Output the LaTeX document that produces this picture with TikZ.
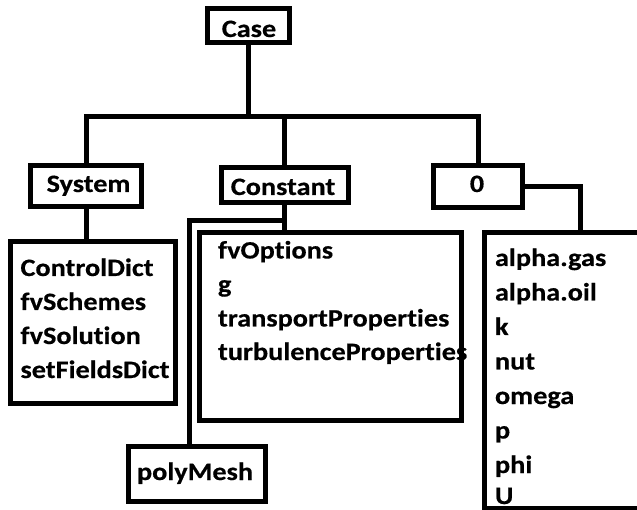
\documentclass[tikz,border=0pt]{standalone}
\usepackage{fontspec}
\setmainfont{Carlito}[FakeStretch=1.13, Ligatures=NoCommon, BoldFeatures={FakeBold=0.5}]
\begin{document}
\begin{tikzpicture}[x=1pt,y=-1pt,
  box/.style={draw, line width=5pt, inner sep=0pt, outer sep=0pt},
  conn/.style={line width=5pt},
  lbl/.style={inner sep=0pt, outer sep=0pt, font=\fontsize{25}{30}\selectfont\bfseries},
  ltxt/.style={lbl, anchor=base west},
  ctxt/.style={lbl, anchor=base}]
\useasboundingbox (0,0) rectangle (637,510);
\clip (0,0) rectangle (637,510);
% boxes
\node[box, minimum width=82pt, minimum height=34pt] (case) at (248.5,26) {};
\node[box, minimum width=111pt, minimum height=41pt] (system) at (86,186) {};
\node[box, minimum width=127pt, minimum height=35pt] (constant) at (284.5,185) {};
\node[box, minimum width=89pt, minimum height=42pt] (zero) at (478,186.5) {};
\node[box, minimum width=165pt, minimum height=161.5pt] (cd) at (93,322.75) {};
\node[box, minimum width=261.5pt, minimum height=188pt] (fvo) at (330.25,326.5) {};
\node[box, minimum width=136.5pt, minimum height=55pt] (poly) at (196.75,474) {};
\node[box, minimum width=166pt, minimum height=275.5pt] (fields) at (567,370.25) {};
% helper coordinates
\coordinate (bar) at (248.5,117);
\coordinate (br) at (285,220.5);
\coordinate (px) at (189,0);
\coordinate (fx) at (580,0);
% connectors
\draw[conn] (case.south) -- (bar);
\draw[conn] (system.north) |- (bar) -| (zero.north);
\draw[conn] (constant.north) -- (constant.north |- bar);
\draw[conn] (system.south) -- (system.south |- cd.north);
\draw[conn] (constant.south) -- (constant.south |- fvo.north);
\draw[conn] (constant.south |- br) -| (px |- poly.north);
\draw[conn] (zero.east) -| (fx |- fields.north);
% labels
\node[ctxt] (tcase) at (249,37) {Case};
\node[ctxt] (tsystem) at (88.5,192) {System};
\node[ctxt] (tconstant) at (283,195) {Constant};
\node[ctxt] (tzero) at (477,192) {0};
\node[ltxt] (cd1) at (20.5,276) {ControlDict};
\node[ltxt] (cd2) at (20.5,310) {fvSchemes};
\node[ltxt] (cd3) at (20.5,344) {fvSolution};
\node[ltxt] (cd4) at (20.5,378) {setFieldsDict};
\node[ltxt] (fv1) at (218,258.5) {fvOptions};
\node[ltxt] (fv2) at (218,292.5) {g};
\node[ltxt] (fv3) at (218,326.5) {transportProperties};
\node[ltxt] (fv4) at (218,360) {turbulenceProperties};
\node[ltxt] (tpoly) at (137,480) {polyMesh};
\node[ltxt] (f1) at (495,266) {alpha.gas};
\node[ltxt] (f2) at (495,300.5) {alpha.oil};
\node[ltxt] (f3) at (495,335) {k};
\node[ltxt] (f4) at (495,369.5) {nut};
\node[ltxt] (f5) at (495,404) {omega};
\node[ltxt] (f6) at (495,438.5) {p};
\node[ltxt] (f7) at (495,473) {phi};
\node[ltxt] (f8) at (495,504) {U};
\end{tikzpicture}
\end{document}
